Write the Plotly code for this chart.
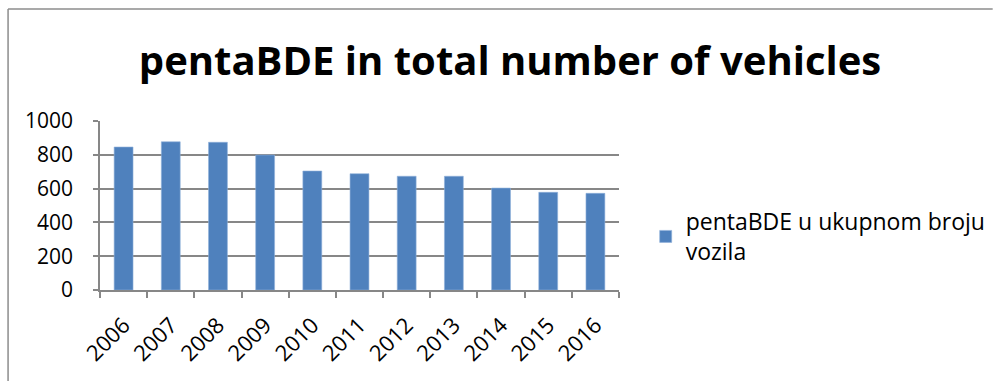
import plotly.graph_objects as go

years = ["2006", "2007", "2008", "2009", "2010", "2011",
         "2012", "2013", "2014", "2015", "2016"]
values = [846, 877, 874, 799, 704, 688, 673, 673, 603, 578, 572]
series_name = "pentaBDE u ukupnom broju<br>vozila"
title_text = "pentaBDE in total number of vehicles"
y_ticks = [0, 200, 400, 600, 800, 1000]

W, H = 1003, 381
L, R, T, B = 100, 378, 121, 91
pw, ph = W - L - R, H - T - B


def px_x(x):
    return (x - L) / pw


def px_y(y):
    return (H - B - y) / ph


FONT = "Open Sans"
GRID = "#878787"

fig = go.Figure(
    go.Bar(
        x=years,
        y=values,
        name=series_name,
        marker=dict(color="#4F81BD", line=dict(color="#8FB0DA", width=0.6)),
        showlegend=True,
    )
)

fig.update_layout(
    width=W,
    height=H,
    margin=dict(l=L, r=R, t=T, b=B),
    paper_bgcolor="white",
    plot_bgcolor="white",
    bargap=0.6,
    font=dict(family=FONT, size=20, color="black"),
    title=dict(
        text=f"<b>{title_text}</b>",
        x=510 / W,
        xanchor="center",
        xref="container",
        y=1 - 61 / H,
        yanchor="middle",
        yref="container",
        font=dict(family=FONT, size=40, color="black"),
    ),
    legend=dict(
        x=px_x(652),
        y=px_y(200),
        xanchor="left",
        yanchor="top",
        font=dict(family=FONT, size=23, color="black"),
        bgcolor="rgba(0,0,0,0)",
        itemwidth=30,
        tracegroupgap=0,
    ),
    showlegend=True,
    xaxis=dict(
        type="category",
        tickangle=-45,
        showgrid=False,
        showline=True,
        linecolor=GRID,
        linewidth=1.5,
        ticks="outside",
        tickson="boundaries",
        ticklen=6,
        tickcolor=GRID,
        tickwidth=1.5,
        ticklabelstandoff=12,
        tickfont=dict(family=FONT, size=22),
    ),
    yaxis=dict(
        range=[0, 1000],
        tickvals=y_ticks,
        showgrid=True,
        gridcolor=GRID,
        gridwidth=1.5,
        showline=True,
        linecolor=GRID,
        linewidth=1.5,
        ticks="outside",
        ticklen=5,
        tickcolor=GRID,
        tickwidth=1.5,
        ticklabelstandoff=16,
        zeroline=False,
        tickfont=dict(family=FONT, size=21),
    ),
    shapes=[
        # chart-area frame (top and left edges)
        dict(type="line", xref="paper", yref="paper",
             x0=px_x(7), x1=px_x(1003), y0=px_y(9), y1=px_y(9),
             line=dict(color="#8C8C8C", width=1.5)),
        dict(type="line", xref="paper", yref="paper",
             x0=px_x(7), x1=px_x(7), y0=px_y(9), y1=px_y(381),
             line=dict(color="#8C8C8C", width=1.5)),
    ],
)

fig.write_html("out.html")
